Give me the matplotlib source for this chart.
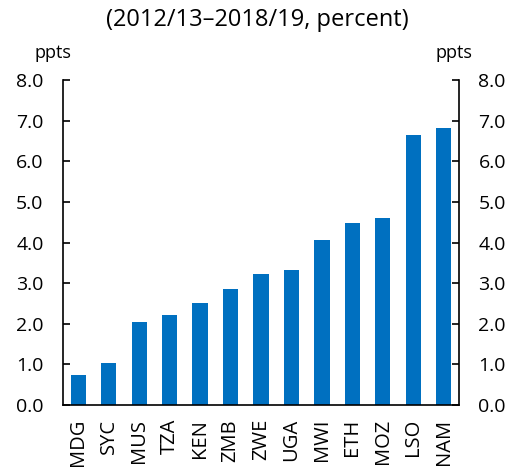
import matplotlib.pyplot as plt

plt.rcParams['font.family'] = ['Open Sans', 'DejaVu Sans']

countries = ['MDG', 'SYC', 'MUS', 'TZA', 'KEN', 'ZMB', 'ZWE', 'UGA', 'MWI', 'ETH', 'MOZ', 'LSO', 'NAM']
values = [0.73, 1.04, 2.05, 2.22, 2.52, 2.86, 3.23, 3.32, 4.05, 4.47, 4.60, 6.65, 6.82]
yticks = [0, 1, 2, 3, 4, 5, 6, 7, 8]

fig = plt.figure(figsize=(5.15, 4.68), dpi=100)
ax = fig.add_axes([63 / 515, 1 - 405 / 468, 396 / 515, 325 / 468])

ax.bar(range(len(countries)), values, width=0.5, color='#0070C0')
ax.set_xlim(-0.5, len(countries) - 0.5)
ax.set_ylim(0, 8)
ax.set_yticks(yticks)
ax.set_yticklabels(['%.1f' % t for t in yticks])
ax.set_xticks(range(len(countries)))
ax.set_xticklabels(countries, rotation=90)

ax.spines['top'].set_visible(False)
for s in ['left', 'right', 'bottom']:
    ax.spines[s].set_linewidth(1.2)
ax.tick_params(axis='y', direction='in', length=5, width=1.2, labelsize=14,
               left=True, right=True, labelleft=True, labelright=True, pad=14)
ax.tick_params(axis='x', length=0, labelsize=14.5, pad=10)

fig.text(0.5, 1 - 20 / 468, '(2012/13\u20132018/19, percent)', ha='center', va='center', fontsize=17)
fig.text(53 / 515, 1 - 53 / 468, 'ppts', ha='center', va='center', fontsize=13)
fig.text(454 / 515, 1 - 53 / 468, 'ppts', ha='center', va='center', fontsize=13)

fig.savefig('out.png')
